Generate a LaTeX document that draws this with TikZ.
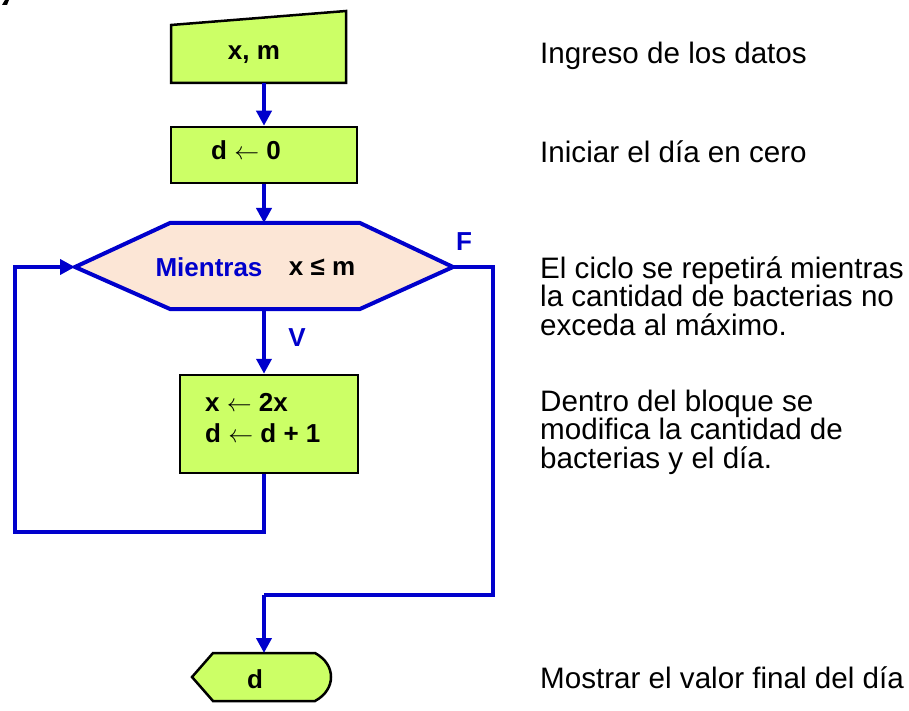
\documentclass[tikz,border=0pt]{standalone}
\usepackage{fontspec}
\setmainfont{Liberation Sans}
\usetikzlibrary{arrows.meta}
\definecolor{lime}{RGB}{204,255,102}
\definecolor{peach}{RGB}{252,230,214}
\definecolor{flowblue}{RGB}{0,0,204}
\tikzset{
  shapeborder/.style={draw=black,line width=2.5pt,fill=lime,line join=miter},
  flow/.style={draw=flowblue,line width=4pt,line join=miter},
  flowarrow/.style={flow,-{Triangle[length=15pt,width=15pt]}},
  boxtext/.style={font=\bfseries\fontsize{26}{30}\selectfont,inner sep=0pt},
  bluelabel/.style={boxtext,text=flowblue},
  note/.style={font=\fontsize{29.6}{30}\selectfont,inner sep=0pt,anchor=base west}
}
\begin{document}
\begin{tikzpicture}[x=1pt,y=-1pt]
\useasboundingbox (0,0) rectangle (909,711);
\fill[white] (0,0) rectangle (909,711);
% small fragment top-left
\fill[black] (2,5) -- (5,0) -- (9,0) -- (7,5) -- cycle;

% input (manual input)
\draw[shapeborder] (171,25) -- (346,11) -- (346,83) -- (171,83) -- cycle;
\node[boxtext] (inp) at (254,55) {x, m};
\coordinate (inpB) at (264,83);

% d <- 0
\node[shapeborder,minimum width=186pt,minimum height=56pt,inner sep=0pt] (init) at (264,155) {};
\node[boxtext] (initT) at (246,150) {d \(\leftarrow\) 0};

% hexagon
\draw[flow,fill=peach] (75,267) -- (170,223) -- (360,223) -- (453,267) -- (360,309) -- (170,309) -- cycle;
\coordinate (hexL) at (75,267);
\coordinate (hexR) at (453,267);
\coordinate (hexT) at (264,223);
\coordinate (hexB) at (264,309);
\node[bluelabel] (mient) at (209,267) {Mientras};
\node[boxtext] (cond) at (322,267) {x ≤ m};
\node[bluelabel] (F) at (464,242) {F};
\node[bluelabel] (V) at (297,338) {V};

% process box
\node[shapeborder,minimum width=178pt,minimum height=98pt,inner sep=0pt] (proc) at (269,424) {};
\node[boxtext,anchor=base west] (p1) at (205,411) {x \(\leftarrow\) 2x};
\node[boxtext,anchor=base west] (p2) at (205,442) {d \(\leftarrow\) d + 1};

% display
\draw[shapeborder] (192,677) -- (213,653) -- (315,653)
  .. controls (326,659) and (331,668) .. (331,677)
  .. controls (331,686) and (326,695) .. (315,701)
  -- (213,701) -- cycle;
\node[boxtext] (outT) at (255,679) {d};
\coordinate (outT0) at (264,653);

% connectors
\coordinate (loopA) at (264,532);
\coordinate (loopB) at (15,532);
\coordinate (loopC) at (15,267);
\coordinate (exA) at (493,267);
\coordinate (exB) at (493,595);
\coordinate (exC) at (264,595);
\draw[flowarrow] (inpB) -- (init.north);
\draw[flowarrow] (init.south) -- (hexT);
\draw[flowarrow] (hexB) -- (proc.north -| hexB);
\draw[flowarrow] (proc.south -| hexB) -- (loopA) -- (loopB) -- (loopC) -- (hexL);
\draw[flow] (hexR) -- (exA) -- (exB) -- (exC);
\draw[flowarrow] (exC) -- (outT0);

% notes
\node[note] (n1) at (540,64) {Ingreso de los datos};
\node[note] (n2) at (540,163) {Iniciar el día en cero};
\node[note] (n3a) at (540,278) {El ciclo se repetirá mientras};
\node[note] (n3b) at (540,306.5) {la cantidad de bacterias no};
\node[note] (n3c) at (540,335) {exceda al máximo.};
\node[note] (n4a) at (540,411) {Dentro del bloque se};
\node[note] (n4b) at (540,439.5) {modifica la cantidad de};
\node[note] (n4c) at (540,468) {bacterias y el día.};
\node[note] (n5) at (540,688) {Mostrar el valor final del día};
\end{tikzpicture}
\end{document}
